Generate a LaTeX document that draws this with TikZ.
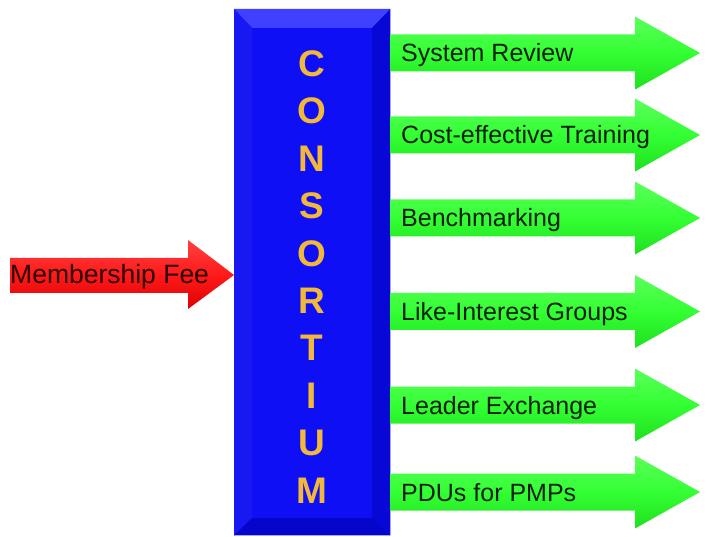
\documentclass[tikz,border=0pt]{standalone}
\usepackage{fontspec}
\setmainfont{Liberation Sans}
\usetikzlibrary{calc}
\definecolor{boxblue}{HTML}{0F0FF5}
\definecolor{bevtop}{HTML}{4040FF}
\definecolor{bevleft}{HTML}{1818F2}
\definecolor{bevright}{HTML}{0707D6}
\definecolor{bevbot}{HTML}{0505CC}
\definecolor{lettercol}{HTML}{F2B83A}
\definecolor{grnlight}{HTML}{5CFF5C}
\definecolor{grnmid}{HTML}{33FF33}
\definecolor{grndark}{HTML}{1FE01F}
\definecolor{redlight}{HTML}{FF4040}
\definecolor{redmid}{HTML}{FF1A1A}
\definecolor{reddark}{HTML}{DD0000}
\definecolor{txtgreen}{HTML}{0B1F0B}
\definecolor{txtred}{HTML}{2A0000}
\tikzset{
  bluebox/.style={fill=boxblue, draw=none, inner sep=0pt, minimum width=156pt, minimum height=526pt},
  lettersty/.style={text=lettercol, font=\fontsize{37}{37}\selectfont\bfseries, inner sep=0pt},
  greenarrow/.style={top color=grnlight, bottom color=grndark, middle color=grnmid, draw=none},
  redarrow/.style={top color=redlight, bottom color=reddark, middle color=redmid, draw=none},
  greenlbl/.style={text=txtgreen, font=\fontsize{25}{25}\selectfont, inner sep=0pt},
  redlbl/.style={text=txtred, font=\fontsize{26.5}{26.5}\selectfont, inner sep=0pt},
}
\begin{document}
\begin{tikzpicture}[x=1pt,y=-1pt]
\useasboundingbox (0,0) rectangle (707,537);
% central box
\node[bluebox, anchor=north west] (consortium) at (234,9) {};
\coordinate (onw) at (consortium.north west);
\coordinate (one) at (consortium.north east);
\coordinate (osw) at (consortium.south west);
\coordinate (ose) at (consortium.south east);
\coordinate (inw) at (252,28);
\coordinate (ine) at (372,28);
\coordinate (isw) at (252,518);
\coordinate (ise) at (372,518);
\fill[bevtop] (onw) -- (one) -- (ine) -- (inw) -- cycle;
\fill[bevleft] (onw) -- (inw) -- (isw) -- (osw) -- cycle;
\fill[bevright] (one) -- (ose) -- (ise) -- (ine) -- cycle;
\fill[bevbot] (osw) -- (isw) -- (ise) -- (ose) -- cycle;
% letters
\foreach \l [count=\i from 0] in {C,O,N,S,O,R,T,I,U,M}
  \node[lettersty, anchor=base] (L\i) at (312, 76.5+47.4*\i) {\l};
% output arrows
\foreach \y/\t/\n in {53/System Review/a1, 135/Cost-effective Training/a2, 218/Benchmarking/a3, 311.5/Like-Interest Groups/a4, 405/Leader Exchange/a5, 492/PDUs for PMPs/a6}{
  \path[greenarrow] (consortium.east |- 0,\y-18.5) -- (635,\y-18.5) -- (635,\y-36.5) -- (700,\y)
     -- (635,\y+36.5) -- (635,\y+18.5) -- (consortium.east |- 0,\y+18.5) -- cycle;
  \node[greenlbl, anchor=base west] (\n) at (401,\y+9) {\t};
}
% input arrow
\coordinate (redtip) at (consortium.west |- 0,275);
\path[redarrow] (10,258) -- (188,258) -- (188,240) -- (redtip) -- (188,309) -- (188,293) -- (10,293) -- cycle;
\node[redlbl, anchor=base west] (fee) at (10,284) {Membership Fee};
\end{tikzpicture}
\end{document}
